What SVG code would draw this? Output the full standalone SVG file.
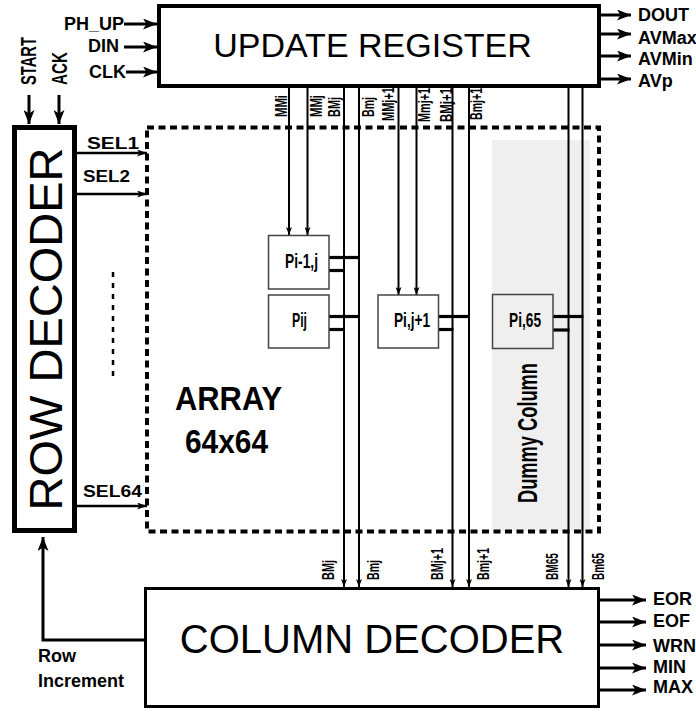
<svg xmlns="http://www.w3.org/2000/svg" width="696" height="713" viewBox="0 0 696 713">
<style>
text{font-family:"Liberation Sans",Arial,sans-serif;fill:#000}
.b{font-weight:bold}
.lbl{font-weight:bold;font-size:18px}
.sm{font-weight:bold;font-size:16px}
.pl{font-weight:bold;font-size:20px}
.thick{stroke:#000;stroke-width:3;fill:none}
.bus{stroke:#000;stroke-width:2;fill:none}
.stub{stroke:#000;stroke-width:3.2;fill:none}
.sel{stroke:#000;stroke-width:2.6;fill:none}
.blk{fill:#fff;stroke:#000}
.cell{fill:#fff;stroke:#444;stroke-width:1.5}
</style>
<defs>
<marker id="ah" markerUnits="userSpaceOnUse" viewBox="0 0 14 11" markerWidth="14" markerHeight="11" refX="14" refY="5.5" orient="auto">
<path d="M0,0 L14,5.5 L0,11 L3.5,5.5 z" fill="#000"/>
</marker>
<marker id="as" markerUnits="userSpaceOnUse" viewBox="0 0 10 7" markerWidth="10" markerHeight="7" refX="10" refY="3.5" orient="auto">
<path d="M0,0 L10,3.5 L0,7 L2.5,3.5 z" fill="#000"/>
</marker>
<marker id="at" markerUnits="userSpaceOnUse" viewBox="0 0 8 6" markerWidth="8" markerHeight="6" refX="8" refY="3" orient="auto">
<path d="M0,0 L8,3 L0,6 L2,3 z" fill="#000"/>
</marker>
</defs>

<g id="dummy-column">
<rect x="492" y="140" width="98" height="391" fill="#efefef"/>
<text class="b" font-size="27" transform="translate(537,503) rotate(-90)" textLength="140" lengthAdjust="spacingAndGlyphs">Dummy Column</text>
</g>

<g id="array">
<rect x="147" y="127.5" width="452" height="404" fill="none" stroke="#000" stroke-width="4" stroke-dasharray="7 4.5"/>
<text class="b" font-size="34" x="175" y="410" textLength="107" lengthAdjust="spacingAndGlyphs">ARRAY</text>
<text class="b" font-size="34" x="185" y="453" textLength="83" lengthAdjust="spacingAndGlyphs">64x64</text>
</g>

<g id="bus-labels">
<text class="sm" transform="translate(287,117) rotate(-90)" textLength="22" lengthAdjust="spacingAndGlyphs">MMi</text>
<text class="sm" transform="translate(322,117) rotate(-90)" textLength="22" lengthAdjust="spacingAndGlyphs">MMj</text>
<text class="sm" transform="translate(340,117) rotate(-90)" textLength="20" lengthAdjust="spacingAndGlyphs">BMj</text>
<text class="sm" transform="translate(374,117) rotate(-90)" textLength="20" lengthAdjust="spacingAndGlyphs">Bmj</text>
<text class="sm" transform="translate(394,121) rotate(-90)" textLength="34" lengthAdjust="spacingAndGlyphs">MMj+1</text>
<text class="sm" transform="translate(430,122) rotate(-90)" textLength="34" lengthAdjust="spacingAndGlyphs">Mmj+1</text>
<text class="sm" transform="translate(452,122) rotate(-90)" textLength="34" lengthAdjust="spacingAndGlyphs">BMj+1</text>
<text class="sm" transform="translate(482,120) rotate(-90)" textLength="32" lengthAdjust="spacingAndGlyphs">Bmj+1</text>
<text class="sm" transform="translate(334,580) rotate(-90)" textLength="20" lengthAdjust="spacingAndGlyphs">BMj</text>
<text class="sm" transform="translate(379,580) rotate(-90)" textLength="20" lengthAdjust="spacingAndGlyphs">Bmj</text>
<text class="sm" transform="translate(443,580) rotate(-90)" textLength="32" lengthAdjust="spacingAndGlyphs">BMj+1</text>
<text class="sm" transform="translate(489,580) rotate(-90)" textLength="32" lengthAdjust="spacingAndGlyphs">Bmj+1</text>
<text class="sm" transform="translate(558,580) rotate(-90)" textLength="27" lengthAdjust="spacingAndGlyphs">BM65</text>
<text class="sm" transform="translate(604,580) rotate(-90)" textLength="27" lengthAdjust="spacingAndGlyphs">Bm65</text>
</g>

<g id="connectors">
<line class="thick" x1="124" y1="24" x2="157" y2="24" marker-end="url(#ah)"/>
<line class="thick" x1="124" y1="47" x2="157" y2="47" marker-end="url(#ah)"/>
<line class="thick" x1="126" y1="72" x2="157" y2="72" marker-end="url(#ah)"/>
<line class="thick" x1="600" y1="15" x2="631" y2="15" marker-end="url(#ah)"/>
<line class="thick" x1="600" y1="34" x2="631" y2="34" marker-end="url(#ah)"/>
<line class="thick" x1="600" y1="56" x2="631" y2="56" marker-end="url(#ah)"/>
<line class="thick" x1="600" y1="79" x2="631" y2="79" marker-end="url(#ah)"/>
<line class="thick" x1="29" y1="95" x2="29" y2="124" marker-end="url(#ah)"/>
<line class="thick" x1="59" y1="95" x2="59" y2="124" marker-end="url(#ah)"/>
<line class="sel" x1="77" y1="153" x2="147" y2="153" marker-end="url(#as)"/>
<line class="sel" x1="77" y1="194" x2="147" y2="194" marker-end="url(#as)"/>
<line class="sel" x1="77" y1="506" x2="147" y2="506" marker-end="url(#as)"/>
<line x1="113" y1="272" x2="113" y2="377" stroke="#000" stroke-width="2.5" stroke-dasharray="5 6"/>
<line class="bus" x1="289" y1="88" x2="289" y2="235" marker-end="url(#at)"/>
<line class="bus" x1="307.5" y1="88" x2="307.5" y2="235" marker-end="url(#at)"/>
<line class="bus" x1="344" y1="88" x2="344" y2="587" marker-end="url(#at)"/>
<line class="bus" x1="359" y1="88" x2="359" y2="587" marker-end="url(#at)"/>
<line class="bus" x1="398.5" y1="88" x2="398.5" y2="295" marker-end="url(#at)"/>
<line class="bus" x1="416.5" y1="88" x2="416.5" y2="295" marker-end="url(#at)"/>
<line class="bus" x1="452.5" y1="88" x2="452.5" y2="587" marker-end="url(#at)"/>
<line class="bus" x1="469" y1="88" x2="469" y2="587" marker-end="url(#at)"/>
<line class="bus" x1="568.5" y1="88" x2="568.5" y2="587" marker-end="url(#at)"/>
<line class="bus" x1="582.5" y1="88" x2="582.5" y2="587" marker-end="url(#at)"/>
<line class="stub" x1="329" y1="257.5" x2="360" y2="257.5"/>
<line class="stub" x1="329" y1="270.5" x2="345" y2="270.5"/>
<line class="stub" x1="329" y1="316.5" x2="360" y2="316.5"/>
<line class="stub" x1="329" y1="329.5" x2="345" y2="329.5"/>
<line class="stub" x1="438.5" y1="316.5" x2="470" y2="316.5"/>
<line class="stub" x1="438.5" y1="329.5" x2="453.5" y2="329.5"/>
<line class="stub" x1="553" y1="316.5" x2="583.5" y2="316.5"/>
<line class="stub" x1="553" y1="330" x2="569.5" y2="330"/>
<line class="thick" x1="599" y1="600" x2="646" y2="600" marker-end="url(#ah)"/>
<line class="thick" x1="599" y1="622" x2="646" y2="622" marker-end="url(#ah)"/>
<line class="thick" x1="599" y1="645" x2="646" y2="645" marker-end="url(#ah)"/>
<line class="thick" x1="599" y1="668" x2="646" y2="668" marker-end="url(#ah)"/>
<line class="thick" x1="599" y1="690" x2="646" y2="690" marker-end="url(#ah)"/>
<polyline class="thick" points="145,640 43,640 43,537" marker-end="url(#ah)"/>
</g>

<g id="update-register">
<rect class="blk" x="159" y="6" width="440" height="80" stroke-width="4"/>
<text x="372.5" y="57" font-size="34" text-anchor="middle">UPDATE REGISTER</text>
<text class="lbl" x="124" y="30" text-anchor="end">PH_UP</text>
<text class="lbl" x="119" y="52" text-anchor="end">DIN</text>
<text class="lbl" x="126" y="78" text-anchor="end">CLK</text>
<text class="lbl" x="638" y="21">DOUT</text>
<text class="lbl" x="638" y="44">AVMax</text>
<text class="lbl" x="638" y="65">AVMin</text>
<text class="lbl" x="638" y="87">AVp</text>
</g>

<g id="row-decoder">
<rect class="blk" x="14.5" y="127.5" width="60" height="403" stroke-width="5"/>
<text font-size="47" text-anchor="middle" transform="translate(62,329) rotate(-90)">ROW DECODER</text>
<text class="b" font-size="22" transform="translate(36,85) rotate(-90)" textLength="48" lengthAdjust="spacingAndGlyphs">START</text>
<text class="b" font-size="22" transform="translate(67,85) rotate(-90)" textLength="33" lengthAdjust="spacingAndGlyphs">ACK</text>
<text class="b" font-size="17" x="87" y="149" textLength="52" lengthAdjust="spacingAndGlyphs">SEL1</text>
<text class="b" font-size="17" x="83" y="182" textLength="47" lengthAdjust="spacingAndGlyphs">SEL2</text>
<text class="b" font-size="17" x="83" y="497" textLength="59" lengthAdjust="spacingAndGlyphs">SEL64</text>
</g>

<g id="cell-pi-1j">
<rect class="cell" x="268.5" y="235.5" width="60.5" height="53.5"/>
<text class="pl" x="285" y="268" textLength="33" lengthAdjust="spacingAndGlyphs">Pi-1,j</text>
</g>
<g id="cell-pij">
<rect class="cell" x="268.5" y="295" width="60.5" height="53"/>
<text class="pl" x="292" y="327" textLength="15" lengthAdjust="spacingAndGlyphs">Pij</text>
</g>
<g id="cell-pij1">
<rect class="cell" x="378" y="295" width="60.5" height="53"/>
<text class="pl" x="394" y="327" textLength="36" lengthAdjust="spacingAndGlyphs">Pi,j+1</text>
</g>
<g id="cell-pi65">
<rect class="cell" x="492.5" y="294.5" width="60.5" height="54" style="fill:#efefef"/>
<text class="pl" x="509" y="327" textLength="32" lengthAdjust="spacingAndGlyphs">Pi,65</text>
</g>

<g id="column-decoder">
<rect class="blk" x="145.5" y="588.5" width="453" height="118" stroke-width="3"/>
<text x="372" y="653" font-size="40" text-anchor="middle">COLUMN DECODER</text>
<text class="lbl" x="653" y="605">EOR</text>
<text class="lbl" x="653" y="627">EOF</text>
<text class="lbl" x="653" y="652">WRN</text>
<text class="lbl" x="653" y="673">MIN</text>
<text class="lbl" x="653" y="693">MAX</text>
<text class="lbl" x="38" y="662" font-size="17">Row</text>
<text class="lbl" x="38" y="687" font-size="17">Increment</text>
</g>
</svg>
